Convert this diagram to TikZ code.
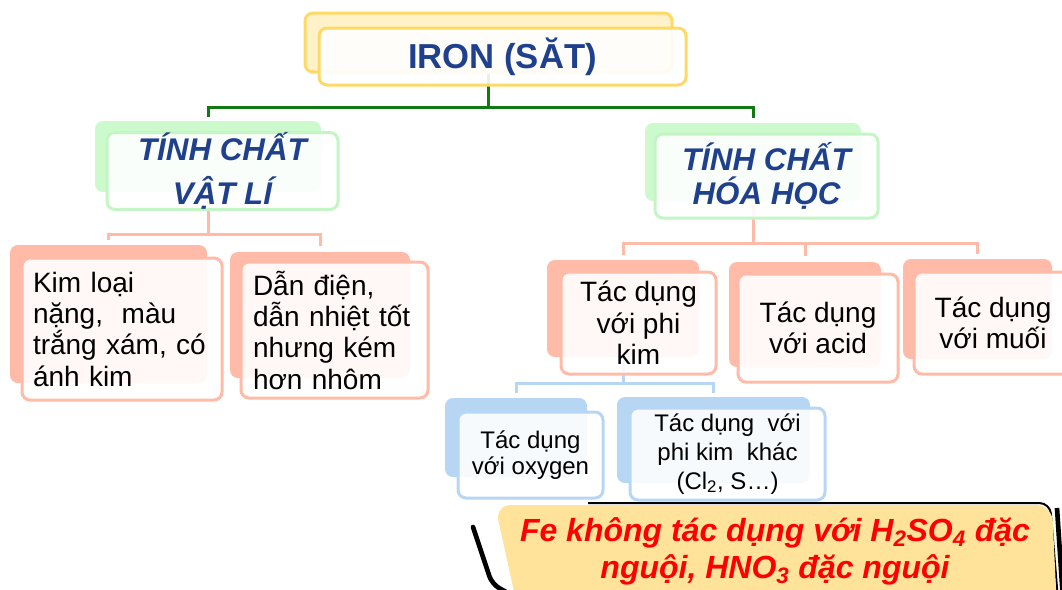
\documentclass[tikz,border=0pt]{standalone}
\usepackage{fontspec}
\setmainfont{Liberation Sans}
\usetikzlibrary{calc}
\definecolor{ironblue}{RGB}{31,64,140}
\definecolor{yelb}{RGB}{255,217,102}
\definecolor{yelf}{RGB}{255,242,200}
\definecolor{grnb}{RGB}{196,245,196}
\definecolor{grnf}{RGB}{204,250,204}
\definecolor{salm}{RGB}{255,187,168}
\definecolor{blu}{RGB}{183,214,244}
\definecolor{gline}{RGB}{16,122,16}
\definecolor{goldf}{RGB}{255,227,155}
\tikzset{
 sz/.style 2 args={minimum width=#1*0.75pt, minimum height=#2*0.75pt},
 boxbase/.style={rectangle, rounded corners=6pt, inner sep=0pt, align=center},
 frontbox/.style={boxbase, fill=white, fill opacity=0.9, text opacity=1, line width=2.25pt},
 yback/.style={boxbase, fill=yelf, draw=yelb, line width=2.25pt},
 yfront/.style={frontbox, draw=yelb},
 gback/.style={boxbase, fill=grnf},
 gfront/.style={frontbox, draw=grnb},
 sback/.style={boxbase, fill=salm},
 sfront/.style={frontbox, draw=salm},
 bback/.style={boxbase, fill=blu},
 bfront/.style={frontbox, draw=blu},
 gconn/.style={draw=gline, line width=2.25pt},
 sconn/.style={draw=salm, line width=2.25pt},
 bconn/.style={draw=blu, line width=2.25pt},
 headtxt/.style={font=\fontsize{23.5}{26}\selectfont\bfseries\itshape, text=ironblue},
 bodytxt/.style={font=\fontsize{21}{23.5}\selectfont},
 smalltxt/.style={font=\fontsize{18}{20}\selectfont},
}
\begin{document}
\begin{tikzpicture}[x=0.75pt,y=-0.75pt]
\useasboundingbox (0,0) rectangle (1062,589);
% back boxes
\node[yback, sz={367}{59}] (ironb) at (488.5,42.5) {};
\node[gback, sz={226}{71}] (lgb) at (208,156.5) {};
\node[gback, sz={216}{78}] (rgb) at (753,162) {};
\node[sback, sz={197}{138}] (b1b) at (108.5,314) {};
\node[sback, sz={180}{126}] (b2b) at (320,315) {};
\node[sback, sz={152}{97}] (b3b) at (623,308.5) {};
\node[sback, sz={152}{105}] (b4b) at (805,314.5) {};
\node[sback, sz={149}{100}] (b5b) at (977.5,309) {};
\node[bback, sz={142}{79}] (c1b) at (516,437.5) {};
\node[bback, sz={193}{86}] (c2b) at (713.5,440) {};
% connectors
\coordinate (gbus) at (488.5,107);
\draw[gconn] (ironb.south) -- (gbus) -| ($(lgb.north)+(0,-4)$);
\draw[gconn] (gbus) -| ($(rgb.north)+(0,-5)$);
\coordinate (sbusL) at (208,234);
\draw[sconn] (lgb.south) -- (sbusL) -| ($(b1b.north)+(0,-5)$);
\draw[sconn] (sbusL) -| ($(b2b.north)+(0,-6)$);
\coordinate (sbusR) at (753,243);
\draw[sconn] (rgb.south) -- (sbusR) -| ($(b3b.north)+(0,-5)$);
\draw[sconn] (sbusR) -| ($(b4b.north)+(0,-6)$);
\draw[sconn] (sbusR) -| ($(b5b.north)+(0,-5)$);
\coordinate (bbus) at (623,383);
\draw[bconn] (b3b.south) -- (bbus) -| ($(c1b.north)+(0,-5)$);
\draw[bconn] (bbus) -| ($(c2b.north)+(0,-4)$);
% front boxes
\node[yfront, sz={367}{57}, font=\fontsize{26}{30}\selectfont\bfseries, text=ironblue] (iron) at (502.5,56.5) {IRON (SĂT)};
\node[gfront, headtxt, sz={231}{76}] (lg) at (222.5,171) {TÍNH CHẤT\\[7pt]VẬT LÍ};
\node[gfront, headtxt, sz={223}{84}] (rg) at (766.5,176) {TÍNH CHẤT\\HÓA HỌC};
\node[sfront, bodytxt, sz={200}{142}, text width=133.5pt, align=left] (b1) at (122,329) {Kim loại\\nặng,\ \ màu\\trắng xám, có\\ánh kim};
\node[sfront, bodytxt, sz={187}{136}, text width=122.25pt, align=left] (b2) at (334.5,330) {Dẫn điện,\\dẫn nhiệt tốt\\nhưng kém\\hơn nhôm};
\node[sfront, bodytxt, sz={155}{102}] (b3) at (638.5,323) {Tác dụng\\với phi\\kim};
\node[sfront, bodytxt, sz={160}{108}] (b4) at (818,328) {Tác dụng\\với acid};
\node[sfront, bodytxt, sz={158}{102}] (b5) at (993,323) {Tác dụng\\với muối};
\node[bfront, smalltxt, sz={145}{86}] (c1) at (530.5,455) {Tác dụng\\với oxygen};
\node[bfront, smalltxt, sz={195}{92}] (c2) at (727.5,454) {Tác dụng\ \ với\\[1.5pt]phi kim\ \ khác\\[1.5pt](Cl\textsubscript{2}, S…)};
% callout
\draw[line width=1.5pt, rounded corners=8pt] (588,503) -- (1050,503) -- (1058,600);
\draw[line width=3.5pt] (1057,508) -- (1063,600);
\draw[line width=3.5pt, line cap=round, rounded corners=6pt] (473,527) -- (492,584) -- (506,592);
\fill[goldf, rounded corners=12pt] (518,610) -- (495,505) -- (1052,505) -- (1057,610) -- cycle;
\node[font=\fontsize{24}{27.75}\selectfont\bfseries\itshape, text=red, align=center] (note) at (775,551) {Fe không tác dụng với H\textsubscript{2}SO\textsubscript{4} đặc\\nguội, HNO\textsubscript{3} đặc nguội};
\end{tikzpicture}
\end{document}
